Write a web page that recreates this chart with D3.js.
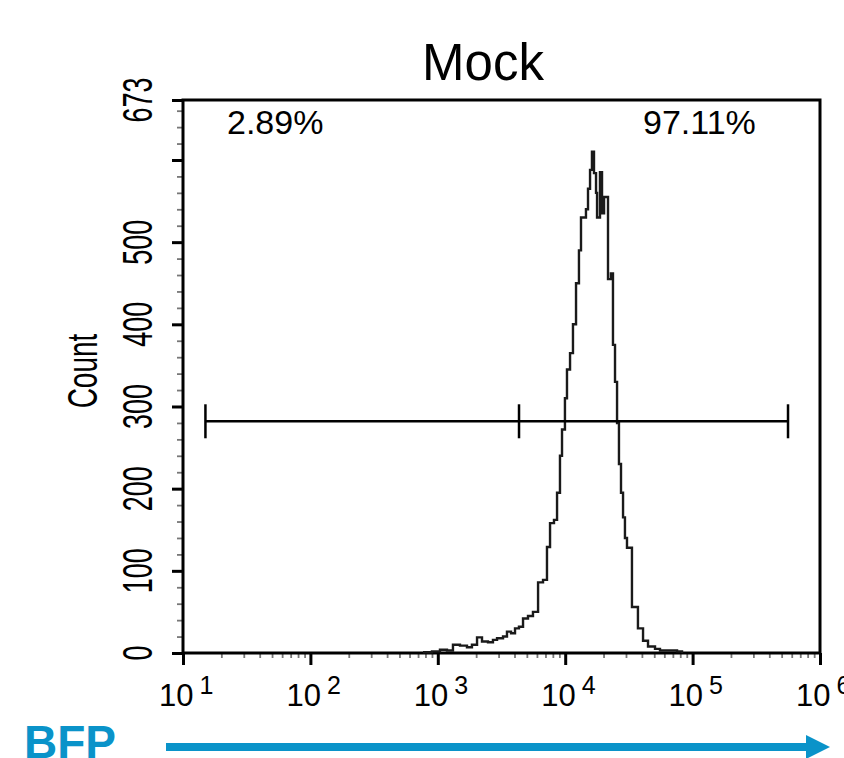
<!DOCTYPE html>
<html>
<head>
<meta charset="utf-8">
<script src="https://cdn.jsdelivr.net/npm/d3@7"></script>
<style>
  body { margin: 0; background: #fff; }
  svg text { font-family: "Liberation Sans", Arial, sans-serif; fill: #000; }
</style>
</head>
<body>
<div id="chart"></div>
<script>
// histogram: log10(BFP) at the start of each step, and the count of that step
const logBFP = [2.884, 2.954, 3.017, 3.072, 3.119, 3.174, 3.229, 3.268, 3.308, 3.347,
  3.394, 3.433, 3.465, 3.512, 3.543, 3.575, 3.606, 3.637, 3.669, 3.708,
  3.747, 3.787, 3.826, 3.857, 3.881, 3.912, 3.936, 3.959, 3.975, 3.998,
  4.014, 4.038, 4.061, 4.085, 4.108, 4.124, 4.163, 4.179, 4.195, 4.210,
  4.226, 4.242, 4.250, 4.273, 4.289, 4.305, 4.336, 4.359, 4.375, 4.391,
  4.407, 4.422, 4.438, 4.454, 4.469, 4.485, 4.524, 4.571, 4.611, 4.650,
  4.705, 4.744, 4.878, 4.917];
const counts = [1, 2, 4, 3, 10, 9, 7, 10, 19, 14,
  13, 16, 18, 20, 26, 24, 30, 32, 42, 45,
  50, 86, 89, 129, 158, 162, 195, 240, 272, 310,
  345, 365, 400, 450, 490, 530, 540, 565, 588, 610,
  584, 560, 530, 585, 535, 555, 455, 462, 375, 330,
  280, 230, 195, 165, 140, 128, 56, 30, 15, 8,
  5, 3, 2, 0];

// gate bar (BFP values) and its height in counts
const gateEdges = [15, 4340, 561000];
const gateCount = 282;
const gateLabels = ["2.89%", "97.11%"];

// axes
const xDecades = [1, 2, 3, 4, 5, 6];
const yMajorTicks = [0, 100, 200, 300, 400, 500, 600, 673];
const yMinorTicks = [20, 40, 60, 80, 120, 140, 160, 180, 220, 240, 260, 280, 320, 340, 360, 380,
  420, 440, 460, 480, 520, 540, 560, 580, 620, 640, 660];
const yTickLabels = [0, 100, 200, 300, 400, 500, 673];
const yMax = 673;

const title = "Mock";
const yTitle = "Count";
const channel = "BFP";
const blue = "#0a93c9";

function draw() {
  const width = 844, height = 758;
  const margin = {top: 100, right: 24, bottom: 105, left: 183};
  const plotW = width - margin.left - margin.right;
  const plotH = height - margin.top - margin.bottom;

  const svg = d3.select("#chart").append("svg")
      .attr("width", width)
      .attr("height", height);

  const x = d3.scaleLog().domain([10, 1e6]).range([margin.left, margin.left + plotW]);
  const y = d3.scaleLinear().domain([0, yMax]).range([margin.top + plotH, margin.top]);

  // title
  svg.append("text")
      .attr("x", 483).attr("y", 80)
      .attr("text-anchor", "middle")
      .style("font-size", "51px")
      .text(title);

  // minor y ticks
  svg.append("g")
      .attr("transform", "translate(" + margin.left + ",0)")
      .call(d3.axisLeft(y).tickValues(yMinorTicks).tickSize(6).tickFormat(""))
      .call(g => g.select(".domain").remove())
      .call(g => g.selectAll("line").attr("stroke", "#777").attr("stroke-width", 1.8));

  // major y ticks
  svg.append("g")
      .attr("transform", "translate(" + margin.left + ",0)")
      .call(d3.axisLeft(y).tickValues(yMajorTicks).tickSize(11).tickFormat(""))
      .call(g => g.select(".domain").remove())
      .call(g => g.selectAll("line").attr("stroke", "#000").attr("stroke-width", 3));

  // y labels, rotated and stretched like the original export
  svg.append("g").selectAll("text")
    .data(yTickLabels)
    .enter().append("text")
      .attr("transform", d => "translate(152," + y(d) + ") rotate(-90) scale(1,1.55)")
      .attr("text-anchor", "middle")
      .style("font-size", "27px")
      .text(d => d);

  svg.append("text")
      .attr("transform", "translate(97,371) rotate(-90) scale(1,1.5)")
      .attr("text-anchor", "middle")
      .style("font-size", "28px")
      .text(yTitle);

  // minor x ticks (2..9 in each decade)
  const minorX = [];
  xDecades.slice(0, -1).forEach(p => {
    [2, 3, 4, 5, 6, 7, 8, 9].forEach(m => minorX.push(m * Math.pow(10, p)));
  });
  svg.append("g")
      .attr("transform", "translate(0," + (margin.top + plotH) + ")")
      .call(d3.axisBottom(x).tickValues(minorX).tickSize(5).tickFormat(""))
      .call(g => g.select(".domain").remove())
      .call(g => g.selectAll("line").attr("stroke", "#777").attr("stroke-width", 1.8));

  const majorX = xDecades.map(p => Math.pow(10, p));
  svg.append("g")
      .attr("transform", "translate(0," + (margin.top + plotH) + ")")
      .call(d3.axisBottom(x).tickValues(majorX).tickSize(12).tickFormat(""))
      .call(g => g.select(".domain").remove())
      .call(g => g.selectAll("line").attr("stroke", "#000").attr("stroke-width", 3));

  // x labels: 10 with superscript exponent
  const xl = svg.append("g").selectAll("text")
    .data(xDecades)
    .enter().append("text")
      .attr("x", d => x(Math.pow(10, d)) - 24)
      .attr("y", 706)
      .style("font-size", "31px");
  xl.append("tspan").text("10");
  xl.append("tspan")
      .attr("dx", 6).attr("dy", -12)
      .style("font-size", "25px")
      .text(d => d);

  // frame
  svg.append("rect")
      .attr("x", margin.left).attr("y", margin.top)
      .attr("width", plotW).attr("height", plotH)
      .attr("fill", "none")
      .attr("stroke", "#000")
      .attr("stroke-width", 3);

  // histogram
  const pts = logBFP.map((v, i) => [Math.pow(10, v), counts[i]]);
  const line = d3.line()
      .x(d => x(d[0]))
      .y(d => y(d[1]))
      .curve(d3.curveStepAfter);
  svg.append("path")
      .datum(pts)
      .attr("d", line)
      .attr("fill", "none")
      .attr("stroke", "#1a1a1a")
      .attr("stroke-width", 2.4);

  // gate
  const gy = y(gateCount);
  svg.append("line")
      .attr("x1", x(gateEdges[0])).attr("x2", x(gateEdges[2]))
      .attr("y1", gy).attr("y2", gy)
      .attr("stroke", "#000").attr("stroke-width", 2.5);
  svg.selectAll(".cap")
    .data(gateEdges)
    .enter().append("line")
      .attr("class", "cap")
      .attr("x1", d => x(d)).attr("x2", d => x(d))
      .attr("y1", gy - 17).attr("y2", gy + 17)
      .attr("stroke", "#000").attr("stroke-width", 2.5);

  svg.append("text")
      .attr("x", 227).attr("y", 134)
      .style("font-size", "34px")
      .text(gateLabels[0]);
  svg.append("text")
      .attr("x", 643).attr("y", 134)
      .style("font-size", "34px")
      .text(gateLabels[1]);

  // channel label with arrow
  svg.append("text")
      .attr("x", 24).attr("y", 758)
      .style("font-size", "46px")
      .style("font-weight", "bold")
      .style("fill", blue)
      .text(channel);
  svg.append("line")
      .attr("x1", 166).attr("x2", 810)
      .attr("y1", 747).attr("y2", 747)
      .attr("stroke", blue).attr("stroke-width", 8);
  svg.append("path")
      .attr("d", "M806,735 L830,747 L806,759 Z")
      .attr("fill", blue);
}

draw();
</script>
</body>
</html>
